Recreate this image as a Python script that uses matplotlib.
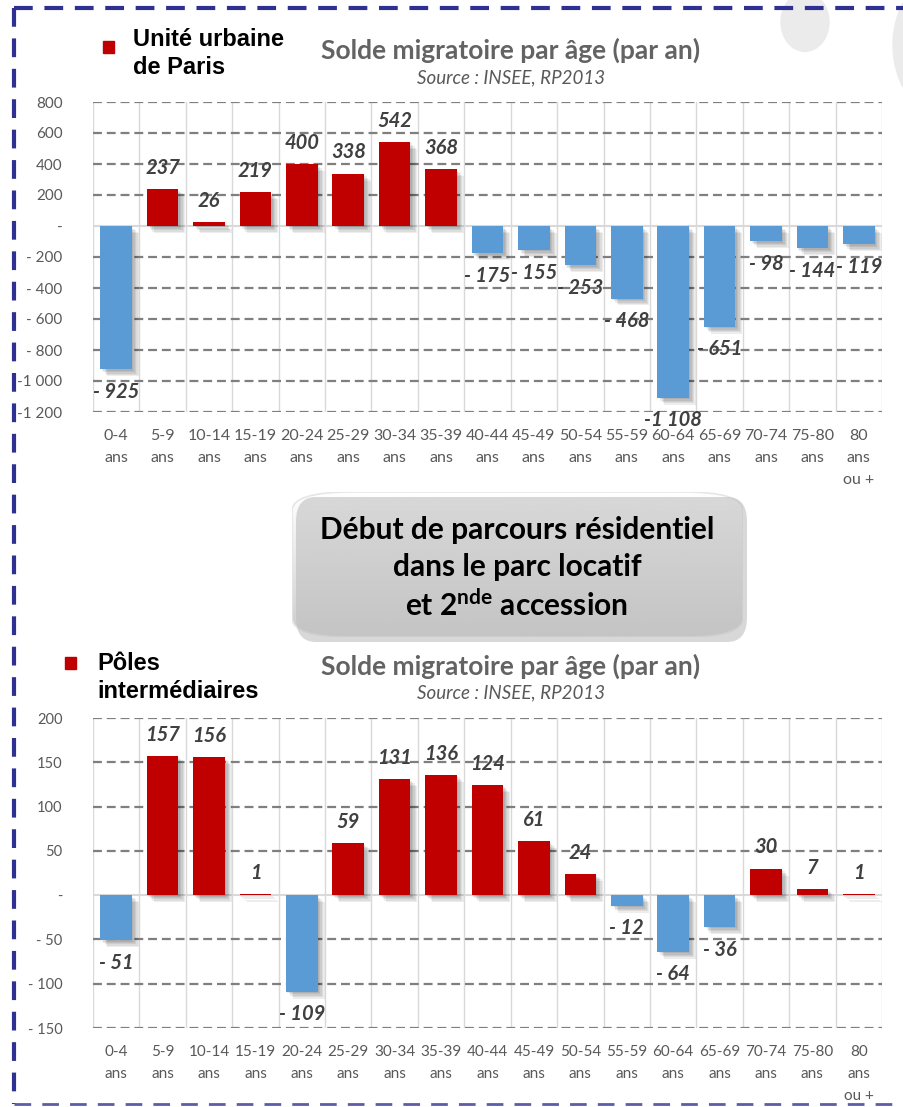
import numpy as np
import matplotlib
matplotlib.use('Agg')
import matplotlib.pyplot as plt
import matplotlib.patheffects as pe
from matplotlib.patches import FancyBboxPatch, Circle, Rectangle
from matplotlib.lines import Line2D

W, H = 904, 1107

age_labels = ['0-4\nans', '5-9\nans', '10-14\nans', '15-19\nans', '20-24\nans',
              '25-29\nans', '30-34\nans', '35-39\nans', '40-44\nans', '45-49\nans',
              '50-54\nans', '55-59\nans', '60-64\nans', '65-69\nans', '70-74\nans',
              '75-80\nans', '80\nans\nou +']

paris_values = [-925, 237, 26, 219, 400, 338, 542, 368, -175, -155,
                -253, -468, -1108, -651, -98, -144, -119]
poles_values = [-51, 157, 156, 1, -109, 59, 131, 136, 124, 61,
                24, -12, -64, -36, 30, 7, 1]

paris_ticks = [800, 600, 400, 200, 0, -200, -400, -600, -800, -1000, -1200]
paris_tick_labels = ['800', '600', '400', '200', '-', '- 200', '- 400', '- 600',
                     '- 800', '-1 000', '-1 200']
poles_ticks = [200, 150, 100, 50, 0, -50, -100, -150]
poles_tick_labels = ['200', '150', '100', '50', '-', '- 50', '- 100', '- 150']

RED = '#C00000'
BLUE = '#5B9BD5'
GREY_TXT = '#595959'
CALIBRI = ['Lato', 'DejaVu Sans']
ARIAL = ['Liberation Sans', 'DejaVu Sans']

plt.rcParams['font.family'] = CALIBRI
plt.rcParams['mathtext.fontset'] = 'custom'
plt.rcParams['mathtext.rm'] = 'Lato'
plt.rcParams['mathtext.bf'] = 'Lato:bold'


def fx(x):
    return x / W


def fy(y):
    return 1 - y / H


def fmt_value(v):
    if v < 0:
        s = f"{-v:,}".replace(',', ' ')
        return ("-" if -v >= 1000 else "- ") + s
    return str(v)


def draw_chart(ax, values, ticks, tick_labels, xsize, ysize):
    x = np.arange(len(values))
    colors = [RED if v >= 0 else BLUE for v in values]

    for i in range(len(values) + 1):
        ax.axvline(i - 0.5, color='#D9D9D9', lw=1, zorder=0)
    for t in ticks:
        if t != 0:
            ax.axhline(t, color='#7F7F7F', lw=1.6, ls=(0, (4, 2.2)), zorder=1)
    ax.axhline(0, color='#D9D9D9', lw=1.5, zorder=2)

    bars = ax.bar(x, values, width=0.68, color=colors, zorder=3)
    shadow = [pe.SimplePatchShadow(offset=(d, -d), shadow_rgbFace='black', alpha=0.07)
              for d in (1, 2, 3, 4, 5)]
    for b in bars:
        b.set_path_effects(shadow + [pe.Normal()])

    for xi, v in zip(x, values):
        ax.annotate(fmt_value(v), (xi, v), xytext=(0, 8 if v >= 0 else -9),
                    textcoords='offset points', ha='center',
                    va='bottom' if v >= 0 else 'top', fontsize=14.5,
                    fontweight='bold', style='italic', color='#404040', zorder=5)

    ax.set_xlim(-0.5, len(values) - 0.5)
    ax.set_ylim(min(ticks), max(ticks))
    ax.set_yticks(ticks)
    ax.set_yticklabels(tick_labels, fontsize=ysize, color=GREY_TXT)
    ax.set_xticks(x)
    ax.set_xticklabels(age_labels, fontsize=xsize, color=GREY_TXT,
                       linespacing=1.75, va='top')
    ax.tick_params(axis='y', length=0, pad=22)
    ax.tick_params(axis='x', length=0, pad=12)
    for s in ax.spines.values():
        s.set_visible(False)
    ax.set_facecolor('none')


fig = plt.figure(figsize=(W / 100, H / 100), dpi=100)

# decorative circles in the background
fig.patches.append(Circle((fx(805), fy(22)), 24 / W, transform=fig.transFigure,
                          color='#EBEBEB', zorder=0))
fig.patches.append(Circle((fx(957), fy(45)), 64 / W, transform=fig.transFigure,
                          color='#EBEBEB', zorder=0))

ax1 = fig.add_axes([fx(93), fy(412), (882 - 93) / W, 310 / H])
draw_chart(ax1, paris_values, paris_ticks, paris_tick_labels, 11.5, 11)

ax2 = fig.add_axes([fx(93), fy(1028), (882 - 93) / W, 310 / H])
draw_chart(ax2, poles_values, poles_ticks, poles_tick_labels, 11, 10.5)

# titles
for ty, sy in ((50, 78), (666, 693)):
    fig.text(fx(511), fy(ty), 'Solde migratoire par âge (par an)', ha='center',
             va='center', fontsize=19, fontweight='bold', color='#636363')
    fig.text(fx(511), fy(sy), 'Source : INSEE, RP2013', ha='center', va='center',
             fontsize=13.5, style='italic', color=GREY_TXT)

# legends
fig.patches.append(Rectangle((fx(103), fy(53)), 11 / W, 12 / H,
                             transform=fig.transFigure, color=RED))
fig.text(fx(133), fy(40), 'Unité urbaine', family=ARIAL, fontsize=17,
         fontweight='bold', va='center')
fig.text(fx(133), fy(68), 'de Paris', family=ARIAL, fontsize=17,
         fontweight='bold', va='center')
fig.patches.append(Rectangle((fx(65), fy(669)), 11 / W, 12 / H,
                             transform=fig.transFigure, color=RED))
fig.text(fx(97), fy(663), 'Pôles', family=ARIAL, fontsize=17,
         fontweight='bold', va='center')
fig.text(fx(97), fy(692), 'intermédiaires', family=ARIAL, fontsize=17,
         fontweight='bold', va='center')

# central box with gradient
bx0, bx1, by0, by1 = 292, 743, 492, 637
shadow_box = FancyBboxPatch((fx(bx0 + 4), fy(by1 + 5)), (bx1 - bx0) / W, (by1 - by0) / H,
                            boxstyle='round,pad=0,rounding_size=0.022',
                            transform=fig.transFigure, fc='#BFBFBF', ec='none',
                            alpha=0.6, zorder=1)
fig.patches.append(shadow_box)
box_ax = fig.add_axes([fx(bx0), fy(by1), (bx1 - bx0) / W, (by1 - by0) / H])
box_ax.set_axis_off()
grad = np.linspace(1.0, 0.8, 256).reshape(-1, 1)
img = box_ax.imshow(grad, cmap='gray', vmin=0, vmax=1, aspect='auto',
                    extent=[0, 1, 0, 1], origin='upper')
clip = FancyBboxPatch((0, 0), 1, 1, boxstyle='round,pad=0,rounding_size=0.13',
                      transform=box_ax.transAxes, fc='none', ec='#E6E6E6', lw=1.2)
box_ax.add_patch(clip)
img.set_clip_path(clip)
box_ax.set_xlim(0, 1)
box_ax.set_ylim(0, 1)

fig.text(fx(517), fy(530), 'Début de parcours résidentiel', ha='center', va='center',
         fontsize=21.5, fontweight='bold')
fig.text(fx(517), fy(567), 'dans le parc locatif', ha='center', va='center',
         fontsize=21.5, fontweight='bold')
fig.text(fx(517), fy(605), r'et 2$^{\mathbf{nde}}$ accession', ha='center', va='center',
         fontsize=21.5, fontweight='bold')

# dashed frame
frame = dict(color='#2E3192', lw=3, ls=(0, (4.5, 2.8)), transform=fig.transFigure)
fig.lines.append(Line2D([fx(14), fx(904)], [fy(8), fy(8)], **frame))
fig.lines.append(Line2D([fx(14), fx(14)], [fy(8), fy(1104)], **frame))
fig.lines.append(Line2D([fx(14), fx(904)], [fy(1104), fy(1104)], color='#5B5EA6', lw=2,
                        ls=(0, (6, 4)), transform=fig.transFigure))

fig.savefig('out.png', dpi=100)
